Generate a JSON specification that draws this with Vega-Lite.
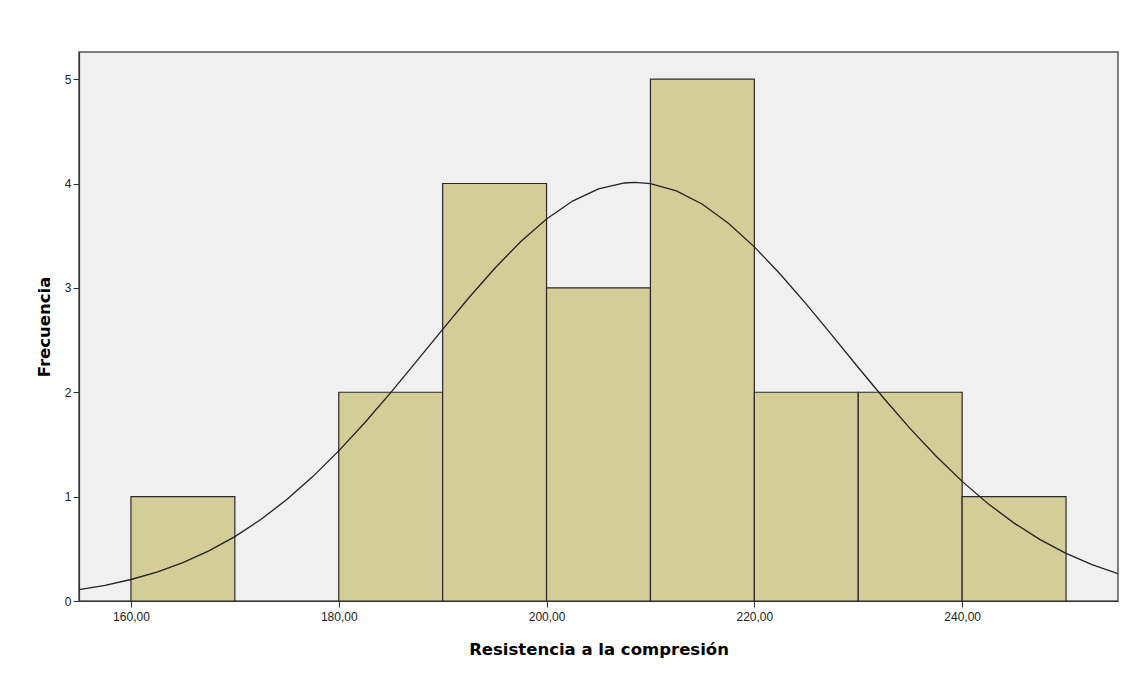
{
  "$schema": "https://vega.github.io/schema/vega-lite/v6.json",
  "autosize": {"type": "none"},
  "padding": {"left": 79, "top": 52, "right": 17, "bottom": 72},
  "width": 1039,
  "height": 549,
  "background": "white",
  "config": {
    "view": {"fill": "#f0f0f0", "stroke": "#555555", "strokeWidth": 1.5},
    "axis": {"grid": false, "labelFont": "Liberation Sans", "labelFontSize": 12, "labelColor": "#222222", "titleFont": "DejaVu Sans", "titleFontWeight": "bold", "titleFontSize": 16.5, "titleColor": "#000000", "domainColor": "#333333", "tickColor": "#333333", "tickSize": 6, "domainWidth": 1.2}
  },
  "datasets": {
    "bins": [
      {"bin_start": 160, "bin_end": 170, "count": 1},
      {"bin_start": 180, "bin_end": 190, "count": 2},
      {"bin_start": 190, "bin_end": 200, "count": 4},
      {"bin_start": 200, "bin_end": 210, "count": 3},
      {"bin_start": 210, "bin_end": 220, "count": 5},
      {"bin_start": 220, "bin_end": 230, "count": 2},
      {"bin_start": 230, "bin_end": 240, "count": 2},
      {"bin_start": 240, "bin_end": 250, "count": 1}
    ],
    "curve": [
      {"x": 155, "y": 0.108}, {"x": 157.5, "y": 0.150}, {"x": 160, "y": 0.206}, {"x": 162.5, "y": 0.277},
      {"x": 165, "y": 0.368}, {"x": 167.5, "y": 0.480}, {"x": 170, "y": 0.617}, {"x": 172.5, "y": 0.781},
      {"x": 175, "y": 0.972}, {"x": 177.5, "y": 1.192}, {"x": 180, "y": 1.438}, {"x": 182.5, "y": 1.708},
      {"x": 185, "y": 1.997}, {"x": 187.5, "y": 2.298}, {"x": 190, "y": 2.603}, {"x": 192.5, "y": 2.903},
      {"x": 195, "y": 3.186}, {"x": 197.5, "y": 3.442}, {"x": 200, "y": 3.660}, {"x": 202.5, "y": 3.832},
      {"x": 205, "y": 3.949}, {"x": 207.5, "y": 4.005}, {"x": 208.5, "y": 4.010}, {"x": 210, "y": 3.999},
      {"x": 212.5, "y": 3.930}, {"x": 215, "y": 3.801}, {"x": 217.5, "y": 3.620}, {"x": 220, "y": 3.393},
      {"x": 222.5, "y": 3.131}, {"x": 225, "y": 2.844}, {"x": 227.5, "y": 2.542}, {"x": 230, "y": 2.237},
      {"x": 232.5, "y": 1.938}, {"x": 235, "y": 1.652}, {"x": 237.5, "y": 1.387}, {"x": 240, "y": 1.146},
      {"x": 242.5, "y": 0.932}, {"x": 245, "y": 0.746}, {"x": 247.5, "y": 0.588}, {"x": 250, "y": 0.456},
      {"x": 252.5, "y": 0.348}, {"x": 255, "y": 0.262}
    ]
  },
  "layer": [
    {
      "data": {"name": "bins"},
      "mark": {"type": "rect", "fill": "#d3ce97", "stroke": "#2a2a2a", "strokeWidth": 1.2},
      "encoding": {
        "x": {"field": "bin_start", "type": "quantitative",
              "scale": {"domain": [155, 255], "nice": false, "zero": false},
              "axis": {"values": [160, 180, 200, 220, 240], "labelExpr": "replace(format(datum.value, '.2f'), '.', ',')", "title": "Resistencia a la compresión", "titlePadding": 19, "labelPadding": 4}},
        "x2": {"field": "bin_end"},
        "y": {"field": "count", "type": "quantitative",
              "scale": {"domain": [0, 5.26], "nice": false},
              "axis": {"values": [0, 1, 2, 3, 4, 5], "format": "d", "title": "Frecuencia", "titlePadding": 12, "labelPadding": 2}},
        "y2": {"datum": 0}
      }
    },
    {
      "data": {"name": "curve"},
      "mark": {"type": "line", "color": "#222222", "strokeWidth": 1.3, "clip": true},
      "encoding": {
        "x": {"field": "x", "type": "quantitative"},
        "y": {"field": "y", "type": "quantitative"}
      }
    }
  ]
}
